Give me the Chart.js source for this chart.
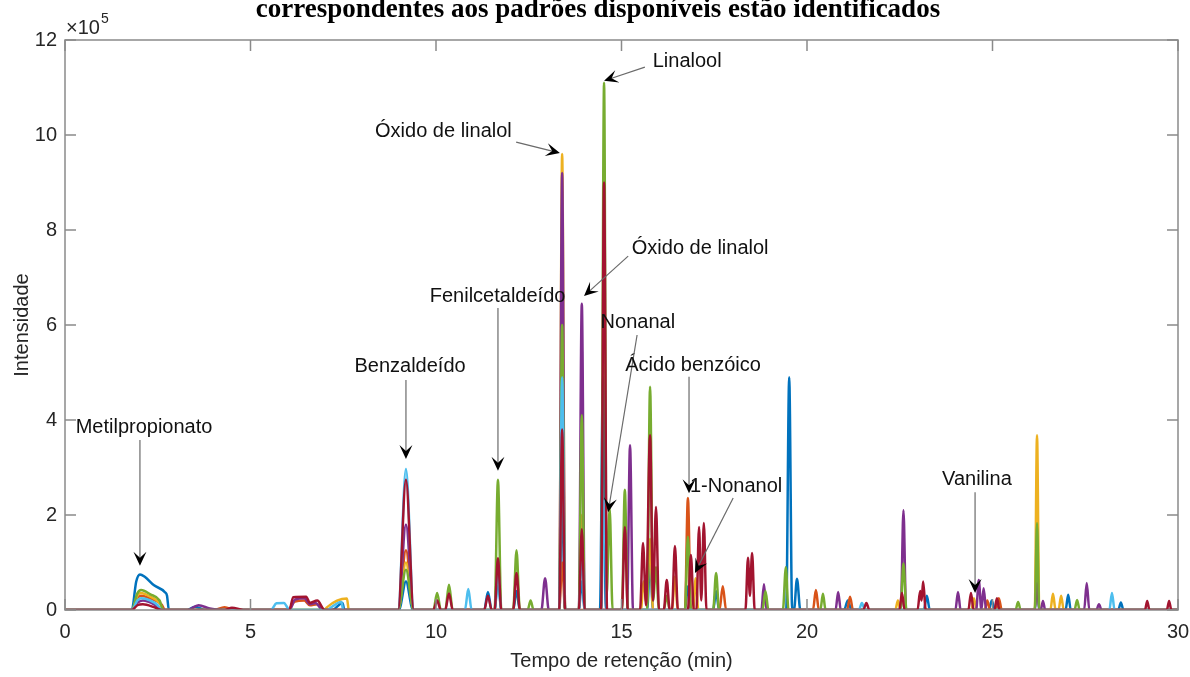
<!DOCTYPE html>
<html>
<head>
<meta charset="utf-8">
<script src="https://cdn.jsdelivr.net/npm/chart.js@4.4.1/dist/chart.umd.min.js"></script>
<style>
    html, body { margin: 0; padding: 0; background: #fff; overflow: hidden; }
    #wrap { position: relative; width: 1190px; height: 677px; }
    #wrap canvas { position: absolute; left: 0; top: 0; }
    #caption {
        position: absolute; left: 0; top: -7px; width: 1196px;
        text-align: center; white-space: nowrap; color: #000;
        font: bold 27px "Liberation Serif", "Times New Roman", serif;
    }
</style>
</head>
<body>
<div id="wrap">
    <canvas id="chart" width="1190" height="677"></canvas>
    <div id="caption">correspondentes aos padrões disponíveis estão identificados</div>
</div>
<script>
// Tick labels
const xTicks = [0, 5, 10, 15, 20, 25, 30];
const yTicks = [0, 2, 4, 6, 8, 10, 12];

// Chromatograms, [retention time (min), intensity (x10^5)], one per colour of the plot
const blueSeries = [
    [0, 0], [1.8, 0], [1.92, 0.6], [2.02, 0.75], [2.15, 0.7], [2.4, 0.52], [2.7, 0.37], [2.75, 0.3], [2.8, 0],
    [3.3, 0], [3.5, 0.07], [3.8, 0],
    [7.2, 0], [7.48, 0.15], [7.53, 0],
    [9.0, 0], [9.19, 0.6], [9.38, 0],
    [11.3, 0], [11.4, 0.38], [11.5, 0],
    [11.58, 0], [11.67, 0.65], [11.76, 0],
    [12.08, 0], [12.17, 0.4], [12.26, 0],
    [13.32, 0], [13.4, 2.3], [13.48, 0],
    [13.85, 0], [13.93, 0.6], [14.01, 0],
    [14.42, 0], [14.5, 4.9], [14.58, 0],
    [15.69, 0], [15.77, 1.0], [15.85, 0],
    [16.71, 0], [16.79, 0.5], [16.87, 0],
    [17.47, 0], [17.55, 0.4], [17.63, 0],
    [19.44, 0], [19.52, 4.9], [19.6, 0],
    [19.65, 0], [19.73, 0.66], [19.82, 0],
    [21.0, 0], [21.1, 0.2], [21.2, 0],
    [23.15, 0], [23.23, 0.3], [23.31, 0],
    [24.9, 0], [24.98, 0.2], [25.06, 0],
    [26.14, 0], [26.2, 0.84], [26.26, 0],
    [26.97, 0], [27.04, 0.32], [27.11, 0],
    [28.39, 0], [28.46, 0.16], [28.53, 0],
    [30, 0]
];
const orangeSeries = [
    [0, 0], [1.8, 0], [1.95, 0.25], [2.05, 0.3], [2.3, 0.24], [2.6, 0.12], [2.7, 0],
    [4.0, 0], [4.3, 0.06], [4.6, 0],
    [6.0, 0], [6.2, 0.18], [6.45, 0.2], [6.6, 0.1], [6.8, 0.12], [7.0, 0],
    [8.98, 0], [9.19, 1.26], [9.4, 0],
    [13.32, 0], [13.4, 1.0], [13.48, 0],
    [16.71, 0], [16.79, 2.36], [16.87, 0],
    [17.64, 0], [17.73, 0.5], [17.82, 0],
    [20.16, 0], [20.24, 0.42], [20.32, 0],
    [21.08, 0], [21.16, 0.28], [21.24, 0],
    [24.79, 0], [24.86, 0.2], [24.93, 0],
    [25.09, 0], [25.17, 0.25], [25.25, 0],
    [30, 0]
];
const yellowSeries = [
    [0, 0], [1.8, 0], [1.95, 0.3], [2.05, 0.36], [2.3, 0.28], [2.55, 0.15], [2.65, 0],
    [7.0, 0], [7.05, 0.05], [7.6, 0.24], [7.65, 0],
    [8.98, 0], [9.19, 1.0], [9.4, 0],
    [13.32, 0], [13.4, 9.6], [13.48, 0],
    [13.85, 0], [13.93, 2.0], [14.01, 0],
    [15.52, 0], [15.6, 0.6], [15.68, 0.1], [15.77, 1.5], [15.85, 0],
    [16.36, 0], [16.44, 0.7], [16.52, 0],
    [16.93, 0], [17.0, 0.67], [17.07, 0],
    [22.38, 0], [22.45, 0.2], [22.52, 0],
    [24.43, 0], [24.5, 0.25], [24.57, 0],
    [26.14, 0], [26.2, 3.68], [26.26, 0],
    [26.56, 0], [26.63, 0.34], [26.7, 0],
    [26.78, 0], [26.85, 0.3], [26.92, 0],
    [30, 0]
];
const purpleSeries = [
    [0, 0], [1.8, 0], [1.95, 0.15], [2.1, 0.2], [2.4, 0.12], [2.6, 0],
    [3.3, 0], [3.6, 0.1], [3.9, 0.03], [4.2, 0],
    [6.05, 0], [6.2, 0.22], [6.45, 0.25], [6.6, 0.12], [6.75, 0.15], [6.95, 0],
    [8.98, 0], [9.19, 1.8], [9.4, 0],
    [12.84, 0], [12.94, 0.67], [13.04, 0],
    [13.32, 0], [13.4, 9.2], [13.48, 0],
    [13.85, 0], [13.93, 6.45], [14.01, 0],
    [15.15, 0], [15.23, 3.47], [15.31, 0],
    [18.77, 0], [18.84, 0.54], [18.91, 0],
    [20.77, 0], [20.84, 0.38], [20.91, 0],
    [22.53, 0], [22.6, 2.1], [22.67, 0],
    [24.0, 0], [24.07, 0.38], [24.14, 0],
    [24.56, 0], [24.63, 0.63], [24.7, 0], [24.76, 0.46], [24.83, 0],
    [26.14, 0], [26.2, 0.57], [26.26, 0],
    [26.3, 0], [26.36, 0.19], [26.42, 0],
    [27.47, 0], [27.54, 0.57], [27.61, 0],
    [27.8, 0], [27.87, 0.12], [27.94, 0],
    [30, 0]
];
const greenSeries = [
    [0, 0], [1.8, 0], [1.95, 0.35], [2.05, 0.42], [2.3, 0.33], [2.55, 0.2], [2.65, 0],
    [8.98, 0], [9.19, 0.85], [9.4, 0],
    [9.93, 0], [10.03, 0.36], [10.13, 0],
    [10.25, 0], [10.35, 0.53], [10.45, 0],
    [11.58, 0], [11.67, 2.74], [11.76, 0],
    [12.08, 0], [12.17, 1.26], [12.26, 0],
    [12.47, 0], [12.55, 0.2], [12.63, 0],
    [13.32, 0], [13.4, 6.0], [13.48, 0],
    [13.85, 0], [13.93, 4.1], [14.01, 0],
    [14.45, 0], [14.53, 11.1], [14.6, 0.3], [14.68, 2.15], [14.76, 0],
    [15.01, 0], [15.09, 2.53], [15.17, 0],
    [15.69, 0], [15.77, 4.7], [15.85, 0.2], [15.93, 0.9], [16.01, 0],
    [16.14, 0], [16.22, 0.3], [16.3, 0],
    [16.71, 0], [16.79, 1.54], [16.87, 0],
    [17.47, 0], [17.55, 0.78], [17.63, 0],
    [18.8, 0], [18.88, 0.4], [18.96, 0],
    [19.35, 0], [19.43, 0.9], [19.5, 0],
    [20.36, 0], [20.43, 0.34], [20.5, 0],
    [22.52, 0], [22.6, 0.98], [22.68, 0],
    [25.62, 0], [25.69, 0.17], [25.76, 0],
    [26.14, 0], [26.2, 1.83], [26.26, 0],
    [27.21, 0], [27.28, 0.21], [27.35, 0],
    [30, 0]
];
const cyanSeries = [
    [0, 0], [1.8, 0], [1.95, 0.2], [2.05, 0.25], [2.3, 0.2], [2.5, 0.1], [2.6, 0],
    [5.55, 0], [5.7, 0.14], [5.9, 0.15], [6.05, 0],
    [7.1, 0], [7.15, 0.04], [7.45, 0.17], [7.5, 0],
    [8.98, 0], [9.19, 2.97], [9.4, 0],
    [10.78, 0], [10.87, 0.44], [10.96, 0],
    [11.58, 0], [11.67, 0.8], [11.76, 0],
    [13.32, 0], [13.4, 4.9], [13.48, 0],
    [13.85, 0], [13.93, 1.2], [14.01, 0],
    [14.45, 0], [14.53, 2.3], [14.61, 0],
    [21.4, 0], [21.48, 0.15], [21.56, 0],
    [28.15, 0], [28.22, 0.36], [28.29, 0],
    [30, 0]
];
const redSeries = [
    [0, 0], [1.8, 0], [1.95, 0.1], [2.1, 0.12], [2.4, 0.06], [2.6, 0],
    [4.3, 0], [4.5, 0.05], [4.8, 0],
    [6.05, 0], [6.15, 0.27], [6.5, 0.28], [6.6, 0.15], [6.8, 0.2], [7.0, 0],
    [8.98, 0], [9.19, 2.74], [9.4, 0],
    [9.93, 0], [10.03, 0.2], [10.13, 0],
    [10.25, 0], [10.35, 0.35], [10.45, 0],
    [11.3, 0], [11.4, 0.3], [11.5, 0],
    [11.58, 0], [11.67, 1.09], [11.76, 0],
    [12.08, 0], [12.17, 0.78], [12.26, 0],
    [13.32, 0], [13.4, 3.8], [13.48, 0],
    [13.85, 0], [13.93, 1.7], [14.01, 0],
    [14.45, 0], [14.53, 9.0], [14.61, 0],
    [15.01, 0], [15.09, 1.75], [15.17, 0],
    [15.5, 0], [15.58, 1.41], [15.66, 0.1], [15.77, 3.68], [15.85, 0.2], [15.93, 2.17], [16.01, 0],
    [16.14, 0], [16.22, 0.63], [16.3, 0],
    [16.36, 0], [16.44, 1.35], [16.52, 0],
    [16.79, 0], [16.87, 1.16], [16.95, 0],
    [17.02, 0], [17.09, 1.75], [17.15, 0.2], [17.22, 1.83], [17.29, 0],
    [18.34, 0], [18.41, 1.1], [18.46, 0.3], [18.52, 1.2], [18.59, 0],
    [21.52, 0], [21.6, 0.15], [21.68, 0],
    [22.49, 0], [22.56, 0.36], [22.63, 0],
    [22.98, 0], [23.05, 0.4], [23.09, 0.2], [23.13, 0.6], [23.2, 0],
    [24.35, 0], [24.42, 0.36], [24.49, 0],
    [25.05, 0], [25.12, 0.25], [25.19, 0],
    [29.11, 0], [29.17, 0.19], [29.23, 0],
    [29.7, 0], [29.76, 0.19], [29.82, 0],
    [30, 0]
];

// Compound labels: text position, arrow tail and arrow head, in axis units
const annotations = [
    { text: 'Metilpropionato', at: [2.13, 3.85], tail: [2.02, 3.58], head: [2.02, 0.93] },
    { text: 'Benzaldeído', at: [9.3, 5.12], tail: [9.19, 4.84], head: [9.19, 3.18] },
    { text: 'Fenilcetaldeído', at: [11.66, 6.61], tail: [11.67, 6.36], head: [11.67, 2.93] },
    { text: 'Óxido de linalol', at: [10.2, 10.08], tail: [12.16, 9.85], head: [13.34, 9.62] },
    { text: 'Linalool', at: [16.77, 11.54], tail: [15.63, 11.43], head: [14.53, 11.14] },
    { text: 'Óxido de linalol', at: [17.12, 7.62], tail: [15.18, 7.45], head: [13.99, 6.61] },
    { text: 'Nonanal', at: [15.44, 6.06], tail: [15.42, 5.79], head: [14.64, 2.06] },
    { text: 'Ácido benzóico', at: [16.93, 5.14], tail: [16.82, 4.91], head: [16.82, 2.46] },
    { text: '1-Nonanol', at: [18.09, 2.59], tail: [18.01, 2.36], head: [16.98, 0.78] },
    { text: 'Vanilina', at: [24.58, 2.74], tail: [24.53, 2.48], head: [24.53, 0.36] }
];

const seriesList = [blueSeries, orangeSeries, yellowSeries, purpleSeries, greenSeries, cyanSeries, redSeries];
const colors = ['#0072BD', '#D95319', '#EDB120', '#7E2F8E', '#77AC30', '#4DBEEE', '#A2142F'];

const FONT = '"Liberation Sans", Arial, sans-serif';
const AXIS_COLOR = '#8a8a8a';
const TEXT_COLOR = '#262626';

// Box around the axes with inward ticks on all four sides, plus the x10^5 multiplier
const framePlugin = {
    id: 'frame',
    afterDraw(chart) {
        const { ctx, chartArea: a, scales: { x, y } } = chart;
        ctx.save();
        ctx.strokeStyle = AXIS_COLOR;
        ctx.lineWidth = 1.5;
        ctx.strokeRect(a.left, a.top, a.right - a.left, a.bottom - a.top);
        ctx.beginPath();
        xTicks.forEach(v => {
            const px = x.getPixelForValue(v);
            ctx.moveTo(px, a.bottom); ctx.lineTo(px, a.bottom - 11);
            ctx.moveTo(px, a.top); ctx.lineTo(px, a.top + 11);
        });
        yTicks.forEach(v => {
            const py = y.getPixelForValue(v);
            ctx.moveTo(a.left, py); ctx.lineTo(a.left + 11, py);
            ctx.moveTo(a.right, py); ctx.lineTo(a.right - 11, py);
        });
        ctx.stroke();

        ctx.fillStyle = TEXT_COLOR;
        ctx.textBaseline = 'alphabetic';
        ctx.textAlign = 'left';
        ctx.font = '20px ' + FONT;
        ctx.fillText('×10', a.left + 1, a.top - 6);
        ctx.font = '14px ' + FONT;
        ctx.fillText('5', a.left + 36, a.top - 17);
        ctx.restore();
    }
};

// Text labels with arrows pointing at the identified peaks
const arrowPlugin = {
    id: 'arrows',
    afterDatasetsDraw(chart) {
        const { ctx, scales: { x, y } } = chart;
        ctx.save();
        annotations.forEach(a => {
            const tx = x.getPixelForValue(a.tail[0]), ty = y.getPixelForValue(a.tail[1]);
            const hx = x.getPixelForValue(a.head[0]), hy = y.getPixelForValue(a.head[1]);
            const ang = Math.atan2(hy - ty, hx - tx);
            const c = Math.cos(ang), s = Math.sin(ang);

            ctx.strokeStyle = '#6a6a6a';
            ctx.lineWidth = 1.2;
            ctx.beginPath();
            ctx.moveTo(tx, ty);
            ctx.lineTo(hx - 8 * c, hy - 8 * s);
            ctx.stroke();

            // vback2 head
            const len = 14, half = 6.5, notch = 8;
            ctx.fillStyle = '#000';
            ctx.beginPath();
            ctx.moveTo(hx, hy);
            ctx.lineTo(hx - len * c - half * s, hy - len * s + half * c);
            ctx.lineTo(hx - notch * c, hy - notch * s);
            ctx.lineTo(hx - len * c + half * s, hy - len * s - half * c);
            ctx.closePath();
            ctx.fill();

            ctx.fillStyle = '#111';
            ctx.font = '20px ' + FONT;
            ctx.textAlign = 'center';
            ctx.textBaseline = 'middle';
            ctx.fillText(a.text, x.getPixelForValue(a.at[0]), y.getPixelForValue(a.at[1]));
        });
        ctx.restore();
    }
};

const datasets = seriesList.map((series, i) => ({
    data: series.map(p => ({ x: p[0], y: p[1] })),
    borderColor: colors[i],
    borderWidth: 2.5,
    pointRadius: 0,
    fill: false,
    cubicInterpolationMode: 'monotone',
    order: seriesList.length - i
}));

new Chart(document.getElementById('chart'), {
    type: 'line',
    data: { datasets },
    options: {
        responsive: false,
        animation: false,
        devicePixelRatio: 1,
        layout: { padding: { top: 40, right: 12, left: 0, bottom: 0 } },
        plugins: {
            legend: { display: false },
            tooltip: { enabled: false }
        },
        scales: {
            x: {
                type: 'linear',
                min: 0,
                max: 30,
                afterBuildTicks: scale => { scale.ticks = xTicks.map(v => ({ value: v })); },
                afterFit: scale => {
                    scale.height = 67;
                    scale.paddingLeft = 0;
                    scale.paddingRight = 0;
                },
                grid: { display: false, drawTicks: false },
                border: { display: false },
                ticks: {
                    padding: 10,
                    color: TEXT_COLOR,
                    font: { family: FONT, size: 20 },
                    maxRotation: 0,
                    callback: v => String(v)
                },
                title: {
                    display: true,
                    text: 'Tempo de retenção (min)',
                    color: TEXT_COLOR,
                    font: { family: FONT, size: 20 },
                    padding: { top: 0, bottom: 4 }
                }
            },
            y: {
                type: 'linear',
                min: 0,
                max: 12,
                afterBuildTicks: scale => { scale.ticks = yTicks.map(v => ({ value: v })); },
                afterFit: scale => {
                    scale.width = 65;
                    scale.paddingTop = 0;
                    scale.paddingBottom = 0;
                },
                grid: { display: false, drawTicks: false },
                border: { display: false },
                ticks: {
                    padding: 8,
                    color: TEXT_COLOR,
                    font: { family: FONT, size: 20 },
                    callback: v => String(v)
                },
                title: {
                    display: true,
                    text: 'Intensidade',
                    color: TEXT_COLOR,
                    font: { family: FONT, size: 20 },
                    padding: { top: 10, bottom: 0 }
                }
            }
        }
    },
    plugins: [arrowPlugin, framePlugin]
});
</script>
</body>
</html>
